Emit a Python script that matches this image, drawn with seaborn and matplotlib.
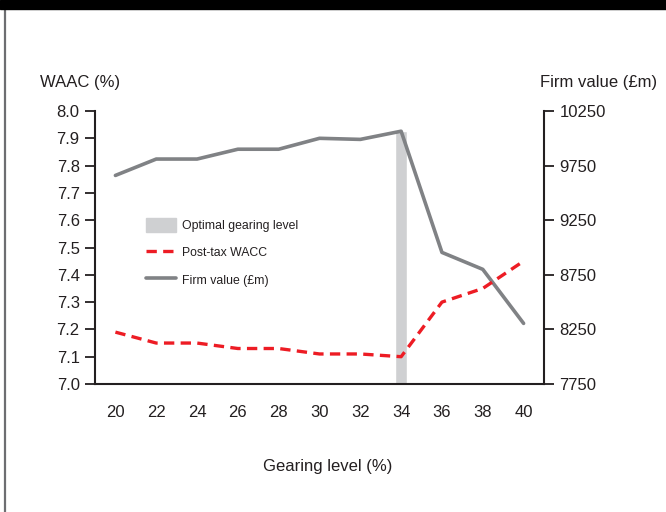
import matplotlib
matplotlib.use("Agg")
import matplotlib.pyplot as plt
from matplotlib.patches import Rectangle, Patch
from matplotlib.lines import Line2D
import numpy as np
import pandas as pd
import seaborn as sns

gearing = [20, 22, 24, 26, 28, 30, 32, 34, 36, 38, 40]
wacc = [7.19, 7.15, 7.15, 7.13, 7.13, 7.11, 7.11, 7.10, 7.30, 7.35, 7.45]
firm_value = [9660, 9810, 9810, 9900, 9900, 10000, 9990, 10065, 8955, 8800, 8305]
optimal = 34

wacc_ticks = [7.0, 7.1, 7.2, 7.3, 7.4, 7.5, 7.6, 7.7, 7.8, 7.9, 8.0]
value_ticks = [7750, 8250, 8750, 9250, 9750, 10250]

df = pd.DataFrame({"pos": range(len(gearing)), "gearing": gearing,
                   "wacc": wacc, "value": firm_value})

sns.set_style("white")
plt.rcParams['font.family'] = ['Liberation Sans', 'DejaVu Sans']
txt = "#231f20"
red = "#ed1c24"
grey = "#808285"
dash = (0, (3.1, 1.9))

fig = plt.figure(figsize=(6.66, 5.12), dpi=100)
ax = fig.add_axes([95/666, 1-384/512, 449/666, 273/512])
ax2 = ax.twinx()
ax.set_zorder(ax2.get_zorder() + 1)
ax.patch.set_visible(False)

# optimal gearing bar on firm value axis
opt_pos = gearing.index(optimal)
ax2.bar(opt_pos, firm_value[opt_pos] - value_ticks[0], bottom=value_ticks[0],
        width=0.3, color="#cfd0d2", zorder=1)
sns.lineplot(data=df, x="pos", y="value", ax=ax2, color=grey, lw=2.6, zorder=3)
sns.lineplot(data=df, x="pos", y="wacc", ax=ax, color=red, lw=2.4,
             dashes=False, linestyle=dash, zorder=3)

ax.set_ylim(wacc_ticks[0], wacc_ticks[-1])
ax2.set_ylim(value_ticks[0], value_ticks[-1])
ax.set_xlim(-0.5, len(gearing) - 0.5)

ax.set_yticks(wacc_ticks)
ax.set_yticklabels([f"{v:.1f}" for v in wacc_ticks])
ax2.set_yticks(value_ticks)
ax2.set_yticklabels([str(v) for v in value_ticks])

ax.set_xticks(np.arange(-0.5, len(gearing), 1.0))
ax.set_xticklabels([])
ax.set_xticks(range(len(gearing)), minor=True)
ax.set_xticklabels([str(g) for g in gearing], minor=True)
ax.tick_params(axis="x", which="minor", length=0, pad=15, labelsize=12, labelcolor=txt)
ax.tick_params(axis="x", which="major", length=4.5, width=1.3, color=txt, direction="out")
ax.tick_params(axis="y", length=7, width=1.3, color=txt, labelsize=12,
               labelcolor=txt, pad=4, direction="out")
ax2.tick_params(axis="y", length=7, width=1.3, color=txt, labelsize=12,
                labelcolor=txt, pad=4, direction="out")

for a in (ax, ax2):
    a.set_xlabel("")
    a.set_ylabel("")
    for s in a.spines.values():
        s.set_visible(False)
ax.spines["left"].set_visible(True)
ax.spines["bottom"].set_visible(True)
ax2.spines["right"].set_visible(True)
for s in (ax.spines["left"], ax.spines["bottom"], ax2.spines["right"]):
    s.set_color(txt)
    s.set_linewidth(1.5)

fig.text(40/666, 1-82/512, "WAAC (%)", fontsize=12, color=txt, va="center", ha="left")
fig.text(540/666, 1-82/512, "Firm value (£m)", fontsize=12, color=txt, va="center", ha="left")
fig.text(328/666, 1-466/512, "Gearing level (%)", fontsize=12, color=txt, va="center", ha="center")

handles = [Patch(color="#cfd0d2"),
           Line2D([0], [0], color=red, lw=2.4, linestyle=dash),
           Line2D([0], [0], color=grey, lw=2.6)]
labels = ["Optimal gearing level", "Post-tax WACC", "Firm value (£m)"]
ax.legend(handles, labels, loc="upper left", bbox_to_anchor=(0.09, 0.65),
          frameon=False, fontsize=8.8, handlelength=2.4, handleheight=1.4,
          labelspacing=1.1, handletextpad=0.5, labelcolor=txt)

# page decorations
fig.patches.append(Rectangle((0, 1-9/512), 1, 9/512, transform=fig.transFigure,
                             color="black", zorder=10))
fig.lines.append(Line2D([5/666, 5/666], [0, 1-9/512], transform=fig.transFigure,
                        color="#6d6e71", lw=1.6))

fig.savefig("out.png", dpi=100)
